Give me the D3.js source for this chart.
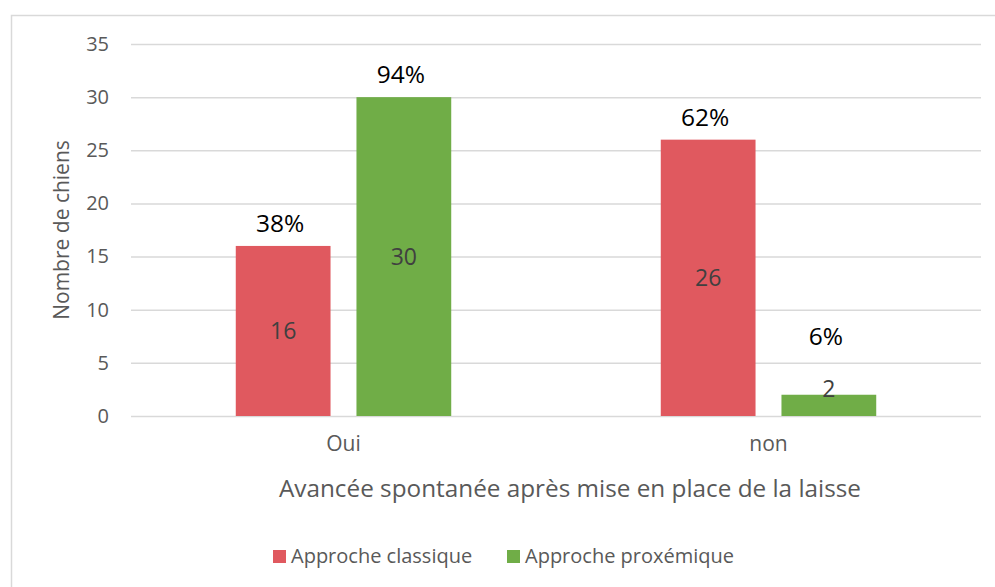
<!DOCTYPE html>
<html>
<head>
<meta charset="utf-8">
<script src="https://cdn.jsdelivr.net/npm/d3@7/dist/d3.min.js"></script>
<style>
  body { margin: 0; background: #fff; }
  svg text { font-family: "Open Sans", sans-serif; }
</style>
</head>
<body>
<div id="chart"></div>
<script>
// Data
const categories = ["Oui", "non"];
const series = ["Approche classique", "Approche proxémique"];
const classique = [16, 26];
const proxemique = [30, 2];
const pctClassique = ["38%", "62%"];
const pctProxemique = ["94%", "6%"];
const yTicks = [0, 5, 10, 15, 20, 25, 30, 35];

const colors = { "Approche classique": "#E0595F", "Approche proxémique": "#70AD47" };

let width = 995, height = 587;
let margin = { left: 131, right: 14, top: 44, bottom: 171 };

let svg = d3.select("#chart").append("svg")
    .attr("width", width)
    .attr("height", height);

// chart frame (right and bottom edges run off the picture)
svg.append("rect")
    .attr("x", 11.5).attr("y", 15.5)
    .attr("width", 1000).attr("height", 600)
    .attr("fill", "#fff")
    .attr("stroke", "#d9d9d9")
    .attr("stroke-width", 1.5);

let y = d3.scaleLinear().domain([0, 35]).range([height - margin.bottom, margin.top]);
let x = d3.scaleBand().domain(categories).range([margin.left, width - margin.right]);
let xs = d3.scaleBand().domain(series).range([0, x.bandwidth()])
    .paddingInner(26 / 121).paddingOuter(0.868);

// gridlines + y labels
let yAxis = svg.append("g")
    .attr("transform", `translate(${margin.left},0)`)
    .call(d3.axisLeft(y).tickValues(yTicks).tickSize(-(width - margin.right - margin.left)).tickPadding(22));
yAxis.select(".domain").remove();
yAxis.selectAll(".tick line").attr("stroke", "#d9d9d9").attr("stroke-width", 1.5);
yAxis.selectAll(".tick text")
    .attr("fill", "#595959")
    .style("font-size", "20px");

// rows: one per category/series pair
let rows = [];
categories.forEach((c, i) => {
    rows.push({ cat: c, s: series[0], v: classique[i], pct: pctClassique[i] });
    rows.push({ cat: c, s: series[1], v: proxemique[i], pct: pctProxemique[i] });
});

svg.append("g").selectAll("rect")
    .data(rows)
    .enter().append("rect")
    .attr("x", d => x(d.cat) + xs(d.s))
    .attr("y", d => y(d.v))
    .attr("width", xs.bandwidth())
    .attr("height", d => y(0) - y(d.v))
    .attr("fill", d => colors[d.s]);

// value labels inside the bars (short bars get theirs just above the top)
svg.append("g").selectAll("text")
    .data(rows)
    .enter().append("text")
    .attr("x", d => x(d.cat) + xs(d.s) + xs.bandwidth() / 2)
    .attr("y", d => (y(0) - y(d.v) < 30 ? y(d.v) - 6 : y(d.v / 2)))
    .attr("dy", "0.35em")
    .attr("text-anchor", "middle")
    .attr("fill", "#404040")
    .style("font-size", "23px")
    .text(d => d.v);

// percentage labels above bars
svg.append("g").selectAll("text")
    .data(rows)
    .enter().append("text")
    .attr("x", d => x(d.cat) + xs(d.s) + xs.bandwidth() / 2 - 3)
    .attr("y", d => y(d.v) - (y(0) - y(d.v) < 30 ? 50 : 14))
    .attr("text-anchor", "middle")
    .attr("fill", "#000")
    .style("font-size", "24.5px")
    .text(d => d.pct);

// category labels
svg.append("g").selectAll("text")
    .data(categories)
    .enter().append("text")
    .attr("x", d => x(d) + x.bandwidth() / 2)
    .attr("y", 451)
    .attr("text-anchor", "middle")
    .attr("fill", "#595959")
    .style("font-size", "21px")
    .text(d => d);

// axis titles
svg.append("text")
    .attr("x", 570)
    .attr("y", 497)
    .attr("text-anchor", "middle")
    .attr("fill", "#595959")
    .style("font-size", "24.3px")
    .text("Avancée spontanée après mise en place de la laisse");

svg.append("text")
    .attr("transform", `translate(69,${(y(0) + y(35)) / 2}) rotate(-90)`)
    .attr("text-anchor", "middle")
    .attr("fill", "#595959")
    .style("font-size", "21px")
    .text("Nombre de chiens");

// legend
let legendX = [273, 507];
let legend = svg.append("g").selectAll("g")
    .data(series)
    .enter().append("g")
    .attr("transform", (d, i) => `translate(${legendX[i]},550)`);
legend.append("rect")
    .attr("width", 13).attr("height", 13)
    .attr("fill", d => colors[d]);
legend.append("text")
    .attr("x", 18).attr("y", 13)
    .attr("fill", "#595959")
    .style("font-size", "20px")
    .text(d => d);
</script>
</body>
</html>
